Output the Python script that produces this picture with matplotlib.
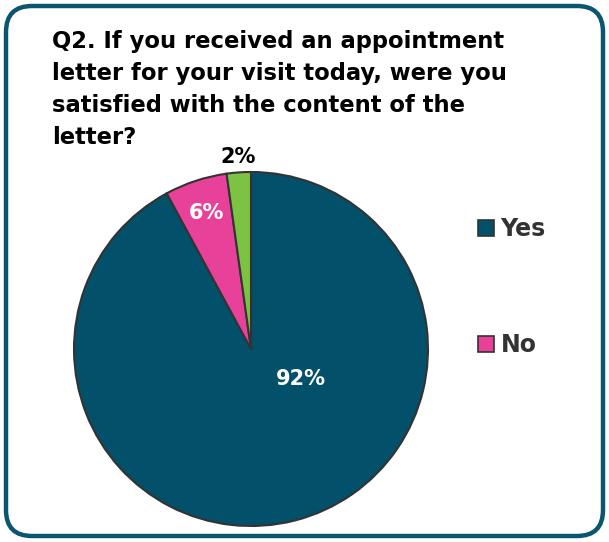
import matplotlib
matplotlib.use("Agg")
import matplotlib.pyplot as plt
from matplotlib.patches import FancyBboxPatch, Patch
import numpy as np

title_lines = ["Q2. If you received an appointment",
               "letter for your visit today, were you",
               "satisfied with the content of the",
               "letter?"]
categories = ["Yes", "No", "N/A"]
values = [92.1, 5.7, 2.2]
labels_pct = ["92%", "6%", "2%"]
colors = ["#02506A", "#E8419A", "#7DC242"]
legend_cats = ["Yes", "No"]

W, H = 609, 542
fig = plt.figure(figsize=(W / 100, H / 100), dpi=100)

# rounded border
bg = fig.add_axes([0, 0, 1, 1])
bg.set_xlim(0, W); bg.set_ylim(H, 0); bg.axis("off")
bg.add_patch(FancyBboxPatch((6, 6), W - 12, H - 12,
                            boxstyle="round,pad=0,rounding_size=26",
                            fc="white", ec="#0A5670", lw=3.2))

# title lines placed by baseline
for i, line in enumerate(title_lines):
    fig.text(52 / W, 1 - (48 + 32 * i) / H, line, fontsize=16.3,
             fontweight="bold", family="DejaVu Sans", color="black",
             va="baseline", ha="left")

cx, cy, r = 251, 349, 177
ax = fig.add_axes([(cx - r) / W, (H - cy - r) / H, 2 * r / W, 2 * r / H])
wedges, _ = ax.pie(values, colors=colors, startangle=90, counterclock=False,
                   wedgeprops=dict(edgecolor="#333333", linewidth=1.5))
ax.set_xlim(-1, 1); ax.set_ylim(-1, 1); ax.set_aspect("equal")
ax.axis("off")

def mid_angle(w):
    return np.deg2rad((w.theta1 + w.theta2) / 2)

lab_r = [0.33, 0.81, 1.09]
ang_override = [np.deg2rad(-30.6), None, None]
lab_color = ["white", "white", "black"]
for i, w in enumerate(wedges):
    a = ang_override[i] if ang_override[i] is not None else mid_angle(w)
    ax.text(lab_r[i] * np.cos(a), lab_r[i] * np.sin(a), labels_pct[i],
            ha="center", va="center", fontsize=15, fontweight="bold",
            color=lab_color[i], clip_on=False)

handles = [Patch(facecolor=colors[i], edgecolor="#333333", lw=1.2)
           for i in range(len(legend_cats))]
leg = fig.legend(handles, legend_cats, loc="upper left",
                 bbox_to_anchor=(457 / W, 1 - 196 / H), frameon=False,
                 handlelength=0.65, handleheight=0.65,
                 handletextpad=0.3, labelspacing=3.9,
                 prop=dict(weight="bold", size=17))
for t in leg.get_texts():
    t.set_color("#333333")

fig.savefig("out.png", dpi=100)
